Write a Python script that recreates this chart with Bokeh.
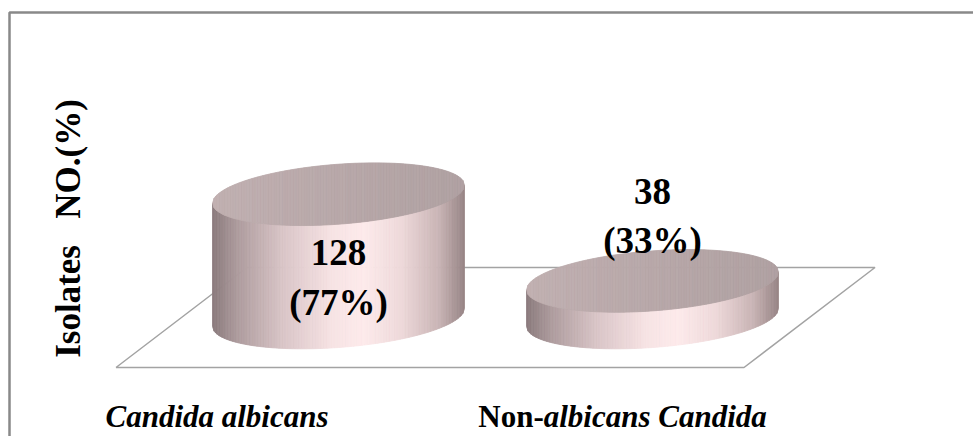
import math
import numpy as np
from bokeh.plotting import figure
from bokeh.models import Range1d
from bokeh.core.properties import value
from bokeh.embed import file_html
from bokeh.resources import INLINE

# ---- data ----
categories = ["Candida albicans", "Non-albicans Candida"]
counts = [128, 38]
percents = ["77%", "33%"]
y_title = "Isolates\u00a0\u00a0\u00a0NO.(%)"

# ---- canvas / scale settings ----
W, H = 973, 436
CAT_PX = 314.0          # screen distance between categories
X0_PX = 338.0           # screen x of the first category
BASE_PX = 317.0         # screen y of the value-0 plane (centre of cylinder bases)
PX_PER_UNIT = 123.3 / 128.0

def sx(px):
    """screen x -> data x"""
    return (px - X0_PX) / CAT_PX

def sy(py):
    """screen y (from top) -> data y"""
    return (BASE_PX - py) / PX_PER_UNIT

# cylinder / floor geometry (screen sizes converted to data units)
RX = 126.0 / CAT_PX
RY = 30.0 / PX_PER_UNIT
TILT = 9.0 / PX_PER_UNIT
FLOOR_DEPTH = 50.0 / PX_PER_UNIT
FLOOR_SHIFT = 65.5 / CAT_PX

SERIF = value("Liberation Serif")

p = figure(width=W, height=H, x_range=Range1d(sx(0), sx(W)),
           y_range=Range1d(sy(H), sy(0)), x_axis_type=None, y_axis_type=None,
           toolbar_location=None, output_backend="svg", min_border=0,
           outline_line_color=None, background_fill_color="white",
           border_fill_color="white")
p.grid.visible = False


def hex_to_rgb(h):
    h = h.lstrip("#")
    return tuple(int(h[i:i + 2], 16) for i in (0, 2, 4))


def ramp(stops, f):
    for (f0, c0), (f1, c1) in zip(stops[:-1], stops[1:]):
        if f <= f1:
            t = 0 if f1 == f0 else (f - f0) / (f1 - f0)
            a, b = hex_to_rgb(c0), hex_to_rgb(c1)
            r = [round(a[k] + (b[k] - a[k]) * t) for k in range(3)]
            return "#%02x%02x%02x" % tuple(r)
    return stops[-1][1]


SIDE_STOPS = [(0.0, "#8a7a7c"), (0.1, "#ad9b9d"), (0.28, "#d9c5c7"),
              (0.48, "#f7e3e4"), (0.6, "#fdeaeb"), (0.75, "#eed9da"),
              (0.9, "#c9b4b5"), (1.0, "#978586")]
TOP_STOPS = [(0.0, "#c0afb0"), (0.5, "#b7a7a8"), (1.0, "#afa0a1")]

# ---- floor ----
n = len(categories)
fx = [-0.5 - FLOOR_SHIFT, n - 0.5 - FLOOR_SHIFT, n - 0.5 + FLOOR_SHIFT,
      -0.5 + FLOOR_SHIFT, -0.5 - FLOOR_SHIFT]
fy = [-FLOOR_DEPTH, -FLOOR_DEPTH, FLOOR_DEPTH, FLOOR_DEPTH, -FLOOR_DEPTH]
p.line(fx, fy, line_color="#a3a3a3", line_width=1.5)

# ---- cylinders ----
N_STRIPS = 160
u_edges = np.linspace(-1.0, 1.0, N_STRIPS + 1)


def lower(u):
    return -RY * np.sqrt(np.clip(1 - u * u, 0, 1)) + TILT * u


def upper(u):
    return RY * np.sqrt(np.clip(1 - u * u, 0, 1)) + TILT * u


for i, v in enumerate(counts):
    xs, ys, cols = [], [], []
    for a, b in zip(u_edges[:-1], u_edges[1:]):
        xa, xb = i + RX * a, i + RX * b
        xs.append([xa, xb, xb, xa])
        ys.append([v + lower(a), v + lower(b), lower(b), lower(a)])
        cols.append(ramp(SIDE_STOPS, (a + b) / 4 + 0.5))
    p.patches(xs, ys, fill_color=cols, line_color=cols, line_width=0.8)

    txs, tys, tcols = [], [], []
    for a, b in zip(u_edges[:-1], u_edges[1:]):
        xa, xb = i + RX * a, i + RX * b
        txs.append([xa, xb, xb, xa])
        tys.append([v + lower(a), v + lower(b), v + upper(b), v + upper(a)])
        tcols.append(ramp(TOP_STOPS, (a + b) / 4 + 0.5))
    p.patches(txs, tys, fill_color=tcols, line_color=tcols, line_width=0.8)

# ---- value labels ----
lab_x = list(range(n))
lab_y = [v * 0.325 if v > 60 else v + 67 for v in counts]
lab_t = [f"{c}\n({pc})" for c, pc in zip(counts, percents)]
p.text(lab_x, lab_y, text=lab_t, text_font=SERIF, text_font_style="bold",
       text_font_size="37px", text_color="black", text_align="center",
       text_baseline="middle", text_line_height=1.2)

# ---- category labels ----
FS_CAT = 31
cat_cx = [sx(216.5), 1 + (622.0 - 652.0) / CAT_PX]
mid_y = sy(416)
p.text([cat_cx[0]], [mid_y], text=[categories[0]], text_font=SERIF,
       text_font_style="bold italic", text_font_size=f"{FS_CAT}px",
       text_align="center", text_baseline="middle", text_color="black")
head, tail = categories[1].split("-", 1)
split_off = -2.54 * FS_CAT
p.text([cat_cx[1]], [mid_y], text=[head + "-"], x_offset=split_off,
       text_font=SERIF, text_font_style="bold", text_font_size=f"{FS_CAT}px",
       text_align="right", text_baseline="middle", text_color="black")
p.text([cat_cx[1]], [mid_y], text=[tail], x_offset=split_off,
       text_font=SERIF, text_font_style="bold italic",
       text_font_size=f"{FS_CAT}px", text_align="left",
       text_baseline="middle", text_color="black")

# ---- vertical title ----
p.text([sx(68)], [sy(228)], text=[y_title], angle=math.pi / 2,
       text_font=SERIF, text_font_style="bold", text_font_size="35px",
       text_align="center", text_baseline="middle", text_color="black")

# ---- chart frame ----
p.line([sx(9), sx(9), sx(W + 5)], [sy(H + 5), sy(12), sy(12)],
       line_color="#898989", line_width=2.5)

open("out.html", "w").write(file_html(p, INLINE))
